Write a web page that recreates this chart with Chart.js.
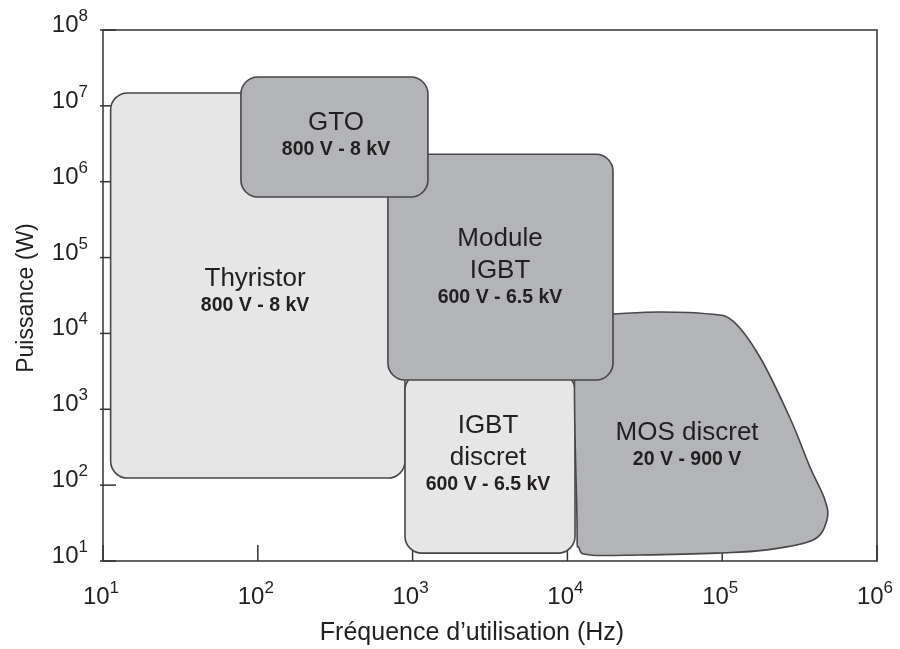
<!DOCTYPE html>
<html>
<head>
    <script src="https://cdn.jsdelivr.net/npm/chart.js"></script>
    <style>
        body {
            margin: 0;
            background-color: white;
        }
    </style>
</head>
<body>
    <canvas id="domainChart" width="900" height="649"></canvas>

    <script>
        // Axis ticks (decades)
        const freqTicks = [1e1, 1e2, 1e3, 1e4, 1e5, 1e6];
        const powerTicks = [1e1, 1e2, 1e3, 1e4, 1e5, 1e6, 1e7, 1e8];

        // Rectangular domains, in drawing order (back to front)
        const boxNames = ["Thyristor", "IGBT\ndiscret", "Module\nIGBT", "GTO"];
        const boxRatings = ["800 V - 8 kV", "600 V - 6.5 kV", "600 V - 6.5 kV", "800 V - 8 kV"];
        const boxFreqMin = [11.2, 893, 693, 77.8];
        const boxFreqMax = [893, 11200, 19700, 1256];
        const boxPowerMin = [124, 12.7, 2430, 6.3e5];
        const boxPowerMax = [1.48e7, 3000, 2.3e6, 2.4e7];
        const boxFills = ["#e6e6e6", "#e6e6e6", "#b3b4b7", "#b3b4b7"];
        const boxLabelFreq = [96, 3070, 3670, 320];
        const boxLabelPower = [35200, 250, 72800, 4.0e6];

        // MOS discret outline (clockwise from top-left)
        const mosFreq = [11530, 19700, 39600, 83400, 117000, 175000, 274000, 369000, 461000, 475000, 386000, 195000, 92500, 29400, 14000, 11900, 11530];
        const mosPower = [17000, 18000, 19200, 18000, 14600, 4890, 767, 173, 63.7, 34.7, 18.9, 14.0, 12.7, 12.0, 12.0, 14.8, 34.7];
        const mosName = "MOS discret";
        const mosRating = "20 V - 900 V";
        const mosLabelFreq = 59300;
        const mosLabelPower = 328;

        const textColor = "#231f20";
        const edgeColor = "#474747";
        const fontFamily = "'Liberation Sans', Arial, sans-serif";

        function roundRect(ctx, x0, y0, x1, y1, r) {
            ctx.beginPath();
            ctx.moveTo(x0 + r, y0);
            ctx.lineTo(x1 - r, y0);
            ctx.arcTo(x1, y0, x1, y0 + r, r);
            ctx.lineTo(x1, y1 - r);
            ctx.arcTo(x1, y1, x1 - r, y1, r);
            ctx.lineTo(x0 + r, y1);
            ctx.arcTo(x0, y1, x0, y1 - r, r);
            ctx.lineTo(x0, y0 + r);
            ctx.arcTo(x0, y0, x0 + r, y0, r);
            ctx.closePath();
        }

        // closed Catmull-Rom curve through the outline points
        function smoothClosed(ctx, pts) {
            const n = pts.length;
            ctx.beginPath();
            ctx.moveTo(pts[0].x, pts[0].y);
            for (let i = 0; i < n; i++) {
                const p0 = pts[(i - 1 + n) % n], p1 = pts[i], p2 = pts[(i + 1) % n], p3 = pts[(i + 2) % n];
                ctx.bezierCurveTo(
                    p1.x + (p2.x - p0.x) / 6, p1.y + (p2.y - p0.y) / 6,
                    p2.x - (p3.x - p1.x) / 6, p2.y - (p3.y - p1.y) / 6,
                    p2.x, p2.y);
            }
            ctx.closePath();
        }

        function drawLabel(ctx, name, rating, cx, cy) {
            const lines = name.split("\n");
            const span = (lines.length - 1) * 32 + 27;
            let y = cy - span / 2;
            ctx.fillStyle = textColor;
            ctx.textAlign = "center";
            ctx.textBaseline = "middle";
            ctx.font = "26px " + fontFamily;
            lines.forEach(line => {
                ctx.fillText(line, cx, y);
                y += 32;
            });
            ctx.font = "bold 19.5px " + fontFamily;
            ctx.fillText(rating, cx, y - 5);
        }

        // "10" with a raised exponent
        function powerLabel(ctx, value, cx, baseline) {
            const exp = String(Math.round(Math.log10(value)));
            ctx.font = "24px " + fontFamily;
            const wBase = ctx.measureText("10").width;
            ctx.font = "17px " + fontFamily;
            const wExp = ctx.measureText(exp).width;
            const x0 = cx - (wBase + wExp) / 2;
            ctx.textAlign = "left";
            ctx.textBaseline = "alphabetic";
            ctx.fillStyle = textColor;
            ctx.font = "24px " + fontFamily;
            ctx.fillText("10", x0, baseline);
            ctx.font = "17px " + fontFamily;
            ctx.fillText(exp, x0 + wBase, baseline - 11);
            return wBase + wExp;
        }

        const domainPlugin = {
            id: "domains",
            beforeDatasetsDraw(chart) {
                const ctx = chart.ctx;
                const xs = chart.scales.x, ys = chart.scales.y;
                const area = chart.chartArea;
                ctx.save();

                // tick marks
                ctx.strokeStyle = "#333";
                ctx.lineWidth = 1.5;
                freqTicks.forEach(v => {
                    const px = xs.getPixelForValue(v);
                    ctx.beginPath();
                    ctx.moveTo(px, area.bottom);
                    ctx.lineTo(px, area.bottom - 16);
                    ctx.stroke();
                });
                powerTicks.forEach(v => {
                    const py = ys.getPixelForValue(v);
                    ctx.beginPath();
                    ctx.moveTo(area.left - 3, py);
                    ctx.lineTo(area.left + 13, py);
                    ctx.stroke();
                });

                const drawBox = i => {
                    const x0 = xs.getPixelForValue(boxFreqMin[i]);
                    const x1 = xs.getPixelForValue(boxFreqMax[i]);
                    const y0 = ys.getPixelForValue(boxPowerMax[i]);
                    const y1 = ys.getPixelForValue(boxPowerMin[i]);
                    roundRect(ctx, x0, y0, x1, y1, 17);
                    ctx.fillStyle = boxFills[i];
                    ctx.fill();
                    ctx.strokeStyle = edgeColor;
                    ctx.lineWidth = 1.6;
                    ctx.stroke();
                };

                drawBox(0);
                drawBox(1);

                const pts = mosFreq.map((f, i) => ({
                    x: xs.getPixelForValue(f),
                    y: ys.getPixelForValue(mosPower[i])
                }));
                smoothClosed(ctx, pts);
                ctx.fillStyle = "#b3b4b7";
                ctx.fill();
                ctx.strokeStyle = edgeColor;
                ctx.lineWidth = 1.6;
                ctx.stroke();

                drawBox(2);
                drawBox(3);

                // labels inside the domains
                boxNames.forEach((name, i) => {
                    drawLabel(ctx, name, boxRatings[i],
                        xs.getPixelForValue(boxLabelFreq[i]),
                        ys.getPixelForValue(boxLabelPower[i]));
                });
                drawLabel(ctx, mosName, mosRating,
                    xs.getPixelForValue(mosLabelFreq),
                    ys.getPixelForValue(mosLabelPower));

                // frame
                ctx.strokeStyle = "#333";
                ctx.lineWidth = 1.5;
                ctx.strokeRect(area.left, area.top, area.right - area.left, area.bottom - area.top);

                // tick labels
                freqTicks.forEach(v => {
                    powerLabel(ctx, v, xs.getPixelForValue(v) - 2, 604);
                });
                powerTicks.forEach(v => {
                    ctx.font = "24px " + fontFamily;
                    const wBase = ctx.measureText("10").width;
                    ctx.font = "17px " + fontFamily;
                    const wExp = ctx.measureText(String(Math.round(Math.log10(v)))).width;
                    powerLabel(ctx, v, 88 - (wBase + wExp) / 2, ys.getPixelForValue(v) + 2);
                });

                // axis titles
                ctx.fillStyle = textColor;
                ctx.textAlign = "center";
                ctx.textBaseline = "middle";
                ctx.font = "25px " + fontFamily;
                ctx.fillText("Fréquence d’utilisation (Hz)", 472, 633);
                ctx.font = "23px " + fontFamily;
                ctx.save();
                ctx.translate(27, 298);
                ctx.rotate(-Math.PI / 2);
                ctx.fillText("Puissance (W)", 0, 0);
                ctx.restore();

                ctx.restore();
            }
        };

        new Chart(document.getElementById("domainChart"), {
            type: "scatter",
            data: { datasets: [] },
            options: {
                responsive: false,
                animation: false,
                layout: { padding: { left: 103, right: 23, top: 30, bottom: 88 } },
                plugins: { legend: { display: false }, tooltip: { enabled: false } },
                scales: {
                    x: { type: "logarithmic", min: 1e1, max: 1e6, display: false },
                    y: { type: "logarithmic", min: 1e1, max: 1e8, display: false }
                }
            },
            plugins: [domainPlugin]
        });
    </script>
</body>
</html>
